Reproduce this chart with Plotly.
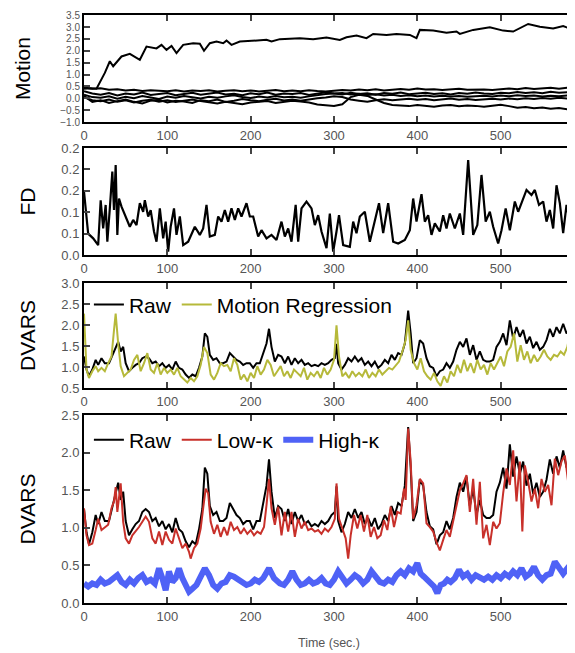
import plotly.graph_objects as go

# ---- data ----
# Motion: one drifting parameter plus five that stay near zero (sampled every 10 s)
motion_drift_t = [0, 8, 15, 25, 31, 35, 45, 55, 67, 75, 87, 93, 99, 105, 111, 119, 131, 139, 144, 151,
                  159, 167, 171, 177, 187, 203, 219, 225, 235, 259, 275, 291, 307, 315, 327, 339, 347, 363, 375, 391,
                  399, 403, 419, 435, 447, 451, 467, 487, 503, 515, 527, 533, 547, 563, 575, 583, 588]
motion_drift = [0.40, 0.42, 0.40, 1.07, 1.56, 1.35, 1.76, 1.87, 1.62, 2.18, 2.10, 2.25, 2.04, 2.20, 1.90, 2.25, 2.32, 2.30, 2.00, 2.32,
                2.39, 2.32, 2.43, 2.25, 2.39, 2.43, 2.46, 2.39, 2.49, 2.53, 2.49, 2.56, 2.46, 2.57, 2.64, 2.53, 2.71, 2.67, 2.71, 2.67,
                2.53, 2.88, 2.85, 2.76, 2.81, 2.71, 2.88, 2.99, 2.85, 2.81, 3.01, 3.13, 3.01, 2.94, 3.04, 2.94, 3.04]

motion_t = list(range(0, 600, 10))
motion_a = [0.45, 0.40, 0.42, 0.36, 0.38, 0.33, 0.36, 0.31, 0.34, 0.32,
            0.30, 0.34, 0.29, 0.33, 0.31, 0.34, 0.29, 0.32, 0.34, 0.30,
            0.33, 0.29, 0.31, 0.35, 0.30, 0.33, 0.30, 0.34, 0.31, 0.29,
            0.32, 0.35, 0.33, 0.37, 0.34, 0.38, 0.33, 0.36, 0.39, 0.36,
            0.41, 0.37, 0.38, 0.35, 0.38, 0.40, 0.36, 0.38, 0.37, 0.35,
            0.38, 0.41, 0.38, 0.43, 0.39, 0.41, 0.44, 0.40, 0.45, 0.43]
motion_b = [0.30, 0.20, 0.15, 0.22, 0.12, 0.20, 0.16, 0.24, 0.14, 0.19,
            0.22, 0.13, 0.18, 0.23, 0.15, 0.20, 0.24, 0.16, 0.19, 0.13,
            0.21, 0.17, 0.24, 0.15, 0.20, 0.18, 0.22, 0.14, 0.19, 0.25,
            0.20, 0.16, 0.23, 0.18, 0.21, 0.15, 0.22, 0.19, 0.24, 0.17,
            0.20, 0.23, 0.18, 0.21, 0.16, 0.22, 0.19, 0.24, 0.20, 0.18,
            0.23, 0.21, 0.26, 0.22, 0.25, 0.21, 0.27, 0.23, 0.26, 0.24]
motion_c = [0.15, 0.05, 0.02, 0.08, -0.02, 0.06, 0.00, 0.09, 0.03, -0.03,
            0.07, 0.02, 0.10, 0.04, -0.01, 0.06, 0.02, 0.08, 0.13, 0.05,
            0.01, 0.07, 0.03, 0.10, 0.04, 0.06, 0.02, 0.08, 0.14, 0.18,
            0.20, 0.22, 0.16, 0.19, 0.14, 0.17, 0.12, 0.15, 0.10, 0.13,
            0.09, 0.12, 0.08, 0.11, 0.07, 0.10, 0.06, 0.09, 0.11, 0.08,
            0.12, 0.09, 0.13, 0.10, 0.12, 0.08, 0.11, 0.09, 0.12, 0.10]
motion_d = [0.05, -0.08, -0.12, -0.05, -0.15, -0.08, -0.18, -0.10, -0.06, -0.14,
            -0.08, -0.16, -0.10, -0.05, -0.12, -0.18, -0.22, -0.15, -0.20, -0.25,
            -0.18, -0.15, -0.12, -0.20, -0.16, -0.10, -0.14, -0.18, -0.26, -0.30,
            -0.32, -0.25, 0.05, 0.15, 0.10, -0.05, -0.20, -0.28, -0.30, -0.33,
            -0.28, -0.32, -0.36, -0.30, -0.28, -0.34, -0.30, -0.32, -0.36, -0.31,
            -0.27, -0.33, -0.40, -0.37, -0.42, -0.39, -0.44, -0.41, -0.46, -0.43]
motion_e = [0.10, -0.15, -0.08, -0.20, -0.12, -0.05, -0.15, -0.22, -0.10, -0.06,
            -0.18, -0.10, -0.14, -0.20, -0.08, -0.12, -0.05, -0.16, -0.10, -0.03,
            -0.08, -0.12, -0.06, -0.02, -0.09, -0.05, -0.10, -0.04, 0.00, 0.03,
            0.08, 0.05, -0.05, -0.10, -0.15, -0.08, -0.04, -0.08, -0.05, -0.02,
            -0.06, -0.03, -0.08, -0.05, -0.01, -0.06, -0.03, -0.07, -0.04, -0.02,
            -0.05, -0.01, -0.04, 0.00, -0.03, 0.01, -0.02, 0.02, -0.01, 0.00]

# Framewise displacement
fd_t = [0, 5, 11, 17, 20, 23, 26, 28, 31, 34, 36, 38, 40, 42, 45, 49, 55, 59, 63, 67,
        71, 73, 77, 80, 84, 87, 91, 95, 98, 101, 104, 108, 111, 115, 119, 125, 133, 139, 143, 147,
        151, 157, 161, 165, 169, 173, 177, 181, 185, 189, 195, 199, 203, 209, 213, 219, 225, 231, 237, 241,
        245, 249, 254, 257, 261, 267, 273, 277, 281, 285, 291, 295, 299, 303, 306, 311, 319, 323, 327, 331,
        337, 343, 349, 354, 359, 365, 371, 377, 385, 391, 395, 399, 405, 409, 413, 417, 421, 427, 431, 435,
        439, 445, 451, 455, 461, 467, 472, 477, 482, 487, 491, 497, 501, 506, 511, 517, 521, 526, 531, 537,
        541, 546, 551, 555, 559, 563, 567, 571, 575, 579, 583, 587]
fd = [0.148, 0.050, 0.039, 0.023, 0.128, 0.062, 0.117, 0.031, 0.109, 0.195, 0.105, 0.210, 0.047, 0.132, 0.113, 0.093, 0.066, 0.082, 0.070, 0.121,
      0.101, 0.128, 0.090, 0.105, 0.055, 0.031, 0.109, 0.039, 0.078, 0.008, 0.066, 0.109, 0.047, 0.090, 0.023, 0.031, 0.066, 0.047, 0.062, 0.117,
      0.043, 0.047, 0.090, 0.078, 0.105, 0.078, 0.109, 0.082, 0.109, 0.090, 0.121, 0.090, 0.090, 0.043, 0.058, 0.039, 0.047, 0.035, 0.078, 0.043,
      0.062, 0.031, 0.117, 0.031, 0.109, 0.125, 0.109, 0.070, 0.093, 0.055, 0.016, 0.097, 0.008, 0.055, 0.093, 0.023, 0.019, 0.078, 0.051, 0.090,
      0.101, 0.031, 0.078, 0.121, 0.051, 0.121, 0.031, 0.027, 0.035, 0.058, 0.132, 0.078, 0.142, 0.078, 0.093, 0.047, 0.074, 0.055, 0.093, 0.062,
      0.097, 0.062, 0.097, 0.047, 0.222, 0.047, 0.070, 0.187, 0.078, 0.101, 0.066, 0.027, 0.058, 0.109, 0.058, 0.125, 0.101, 0.125, 0.152, 0.140,
      0.152, 0.117, 0.125, 0.078, 0.105, 0.062, 0.163, 0.121, 0.051, 0.117, 0.078, 0.105]
fd_ticktext = ["0.0", "0.1", "0.1", "0.2", "0.2", "0.2"]

# DVARS, raw data (same series in both DVARS panels)
raw_t = [0, 3, 6, 10, 14, 17, 21, 25, 30, 34, 38, 41, 44, 47, 50, 54, 58, 62, 66, 70,
         74, 78, 82, 86, 90, 94, 98, 102, 106, 110, 114, 118, 122, 126, 130, 134, 138, 142, 145, 148,
         151, 155, 159, 163, 167, 171, 175, 179, 183, 187, 191, 195, 199, 203, 207, 211, 215, 219, 222, 225,
         229, 233, 237, 241, 245, 249, 253, 257, 261, 265, 269, 273, 277, 281, 285, 289, 293, 297, 301, 303,
         305, 309, 313, 317, 321, 325, 329, 333, 337, 341, 345, 349, 353, 357, 361, 365, 369, 373, 377, 381,
         385, 389, 392, 395, 399, 403, 407, 411, 415, 419, 423, 427, 431, 435, 439, 443, 447, 451, 455, 459,
         463, 467, 471, 475, 479, 483, 487, 491, 495, 499, 503, 507, 511, 515, 519, 523, 527, 531, 535, 539,
         543, 547, 551, 555, 559, 563, 567, 571, 575, 579, 583, 587]
raw = [1.25, 0.94, 0.78, 0.94, 1.17, 1.05, 1.21, 1.09, 1.09, 1.29, 1.48, 1.60, 1.37, 1.48, 1.09, 0.90, 0.98, 1.05, 1.09, 1.21,
       1.25, 1.21, 1.09, 1.13, 1.02, 1.09, 0.98, 1.05, 0.94, 1.13, 0.98, 0.94, 0.82, 0.74, 0.82, 0.78, 0.98, 1.25, 1.80, 1.72,
       1.29, 1.17, 1.21, 1.09, 1.09, 1.13, 1.33, 1.25, 1.17, 1.13, 1.05, 1.09, 1.09, 0.98, 1.09, 1.09, 1.33, 1.56, 1.91, 1.48,
       1.13, 1.29, 1.25, 1.09, 1.25, 1.05, 1.21, 1.09, 1.17, 1.05, 1.09, 1.02, 1.05, 1.02, 1.09, 1.05, 1.09, 1.17, 1.21, 1.55,
       1.09, 0.94, 1.05, 1.21, 1.13, 1.25, 1.13, 1.21, 1.05, 1.13, 1.02, 1.13, 0.98, 1.05, 1.17, 1.09, 1.29, 1.17, 1.33, 1.29,
       1.56, 2.34, 1.80, 1.09, 1.21, 1.64, 1.56, 1.21, 1.02, 0.98, 0.78, 0.90, 0.94, 1.09, 0.98, 1.13, 1.41, 1.60, 1.48, 1.68,
       1.29, 1.52, 1.17, 1.37, 1.17, 1.13, 1.13, 1.17, 1.48, 1.60, 1.80, 1.52, 2.11, 1.68, 1.95, 1.72, 1.88, 1.56, 1.72, 1.45,
       1.60, 1.41, 1.48, 1.64, 1.91, 1.72, 1.95, 1.80, 2.03, 1.80, 1.91, 1.68]

# DVARS after motion regression
mreg_t = [0, 3, 6, 10, 14, 17, 21, 25, 29, 33, 36, 38, 41, 44,
          48, 52, 56, 60, 64, 68, 72, 76, 80, 84, 88, 92, 96, 100, 104, 108, 112, 116, 120, 124,
          128, 132, 136, 140, 144, 148, 152, 156, 160, 164, 168, 172, 176, 180, 184, 188, 192, 196, 200, 204,
          208, 212, 216, 220, 224, 228, 232, 236, 240, 244, 248, 252, 256, 260, 264, 268, 272, 276, 280, 284,
          288, 292, 296, 300, 303, 306,
          310, 314, 318, 322, 326, 330, 334, 338, 342, 346, 350, 354, 358, 362, 366, 370, 374, 378, 382, 386,
          389, 392,
          396, 400, 404, 408, 412, 416, 420, 424, 428, 432, 436, 440, 444, 448, 452, 456, 460, 464, 468, 472,
          476, 480, 484, 488, 492, 496, 500, 504, 508, 512, 516, 520, 524, 528, 532, 536, 540, 544, 548, 552,
          556, 560, 564, 568, 572, 576, 580, 583, 585, 588]
mreg = [2.27, 0.94, 0.74, 0.90, 1.02, 0.90, 0.98, 0.90, 1.09, 1.25, 1.88, 2.27, 1.56, 1.02,
        0.78, 0.86, 0.94, 1.17, 1.29, 0.90, 1.09, 1.33, 0.94, 0.86, 1.09, 0.82, 0.98, 0.86, 0.94, 0.82, 0.98, 0.78, 0.70, 0.63,
        0.74, 0.66, 0.78, 1.05, 1.48, 1.33, 0.82, 0.70, 0.86, 1.09, 1.02, 1.05, 0.90, 1.21, 1.05, 0.70, 0.82, 0.66, 0.86, 0.74,
        1.02, 0.82, 0.94, 1.17, 1.05, 0.78, 0.90, 1.02, 0.78, 0.90, 0.74, 0.94, 0.86, 0.78, 0.98, 0.70, 0.86, 0.78, 0.90, 0.74,
        0.98, 0.82, 0.94, 1.17, 1.99, 1.25,
        0.78, 0.86, 0.74, 0.90, 0.78, 0.86, 0.78, 0.94, 0.74, 0.86, 0.78, 0.94, 0.82, 0.90, 0.98, 0.94, 1.05, 1.13, 1.37, 1.64,
        2.11, 1.41,
        1.09, 0.94, 1.21, 0.90, 0.78, 0.70, 0.86, 0.66, 0.55, 0.78, 0.63, 0.90, 0.78, 1.05, 0.86, 1.17, 0.90, 1.09, 0.86, 1.17,
        0.94, 1.05, 0.82, 1.09, 0.94, 1.09, 1.25, 1.02, 1.37, 1.48, 1.80, 1.13, 1.52, 1.17, 1.37, 1.09, 1.29, 1.13, 1.25, 1.41,
        1.25, 1.17, 1.29, 1.25, 1.37, 1.29, 1.48, 1.80, 2.81, 2.73]

# DVARS of the low-kappa (non-BOLD) part
lowk_t = [0, 3, 6, 10, 14, 17, 21, 25, 29, 33, 36, 38, 40, 44, 47, 50, 54, 58, 62, 66,
          70, 74, 78, 82, 86, 90, 94, 98, 102, 106, 110, 114, 118, 122, 126, 128, 132, 136, 140, 143,
          146, 149, 152, 156, 160, 164, 168, 172, 176, 180, 184, 188, 192, 196, 200, 204, 208, 212, 216, 219,
          222, 225, 229, 233, 237, 241, 245, 249, 253, 257, 261, 265, 269, 273, 277, 281, 285, 289, 293, 297,
          301, 303, 306, 310, 314, 317, 320, 324, 328, 332, 336, 340, 344, 348, 352, 356, 360, 364, 368, 372,
          376, 380, 384, 386, 389, 392, 395, 399, 403, 407, 411, 415, 419, 423, 427, 431, 435, 439, 443, 447,
          451, 455, 459, 463, 467, 471, 475, 479, 483, 487, 491, 495, 499, 503, 507, 511, 515, 519, 523, 526,
          529, 533, 537, 541, 545, 549, 553, 557, 561, 565, 569, 573, 577, 581, 585, 588]
lowk = [1.26, 0.90, 0.77, 0.79, 0.97, 1.12, 0.97, 1.01, 1.04, 1.26, 1.35, 1.54, 1.21, 1.59, 1.08, 0.86, 0.79, 0.90, 0.95, 1.01,
        1.08, 1.15, 1.08, 0.86, 0.79, 0.95, 0.77, 0.95, 0.84, 0.79, 0.99, 0.86, 0.73, 0.79, 0.68, 0.59, 0.73, 0.79, 0.99, 1.26,
        1.52, 1.46, 1.08, 0.92, 1.04, 0.88, 1.01, 0.90, 1.08, 0.97, 1.01, 0.92, 0.99, 0.92, 0.97, 0.90, 0.95, 0.92, 1.01, 1.30,
        1.65, 1.26, 1.04, 1.28, 0.90, 1.21, 0.95, 1.21, 0.88, 1.12, 0.99, 1.08, 0.97, 0.99, 0.95, 0.97, 0.92, 0.99, 0.95, 1.01,
        1.12, 1.59, 1.12, 0.99, 0.86, 0.59, 0.90, 1.17, 0.99, 1.17, 0.95, 1.17, 0.88, 1.01, 0.86, 0.90, 1.10, 0.97, 1.28, 1.01,
        1.21, 1.19, 1.52, 1.37, 2.32, 1.88, 1.12, 1.30, 1.65, 1.59, 1.06, 1.01, 0.95, 0.81, 0.70, 0.84, 0.97, 0.88, 1.08, 1.26,
        1.50, 1.59, 1.70, 1.21, 1.65, 1.04, 1.61, 0.86, 1.04, 0.77, 1.08, 0.99, 1.06, 1.46, 1.79, 1.57, 2.03, 1.35, 1.88, 0.95,
        1.83, 1.61, 1.35, 1.52, 1.26, 1.65, 1.48, 1.57, 1.30, 1.92, 1.70, 1.88, 1.96, 1.61, 1.96, 1.99]

# DVARS of the high-kappa (BOLD) part
highk_t = [0, 5, 10, 15, 20, 25, 30, 35, 40, 45, 50, 55, 60, 65, 70, 75, 80, 85, 90,
           94, 98, 102, 106, 110, 114, 118, 122, 126, 130,
           135, 140, 145, 150, 155, 160, 165, 170, 175, 180, 185, 190, 195, 200, 205, 210, 215,
           222, 228,
           235, 240, 245, 250, 255, 260, 265, 270, 275, 280, 285, 290, 295, 300, 305, 310, 315, 320,
           325, 330, 335, 340, 345, 350, 355, 360, 365, 370, 375, 380, 385, 390, 395, 400,
           404, 408, 412, 416, 420, 424, 428, 432, 436, 440,
           445, 450, 455, 460, 465, 470, 475, 480, 485, 490, 495, 500, 505, 510, 515, 520, 525, 530, 535, 540,
           545, 550, 555, 560, 565, 570, 575, 580, 585, 588]
highk = [0.26, 0.22, 0.26, 0.24, 0.31, 0.26, 0.28, 0.33, 0.37, 0.28, 0.24, 0.31, 0.26, 0.33, 0.37, 0.28, 0.31, 0.26, 0.46,
         0.33, 0.17, 0.42, 0.28, 0.33, 0.46, 0.33, 0.22, 0.15, 0.19,
         0.24, 0.35, 0.46, 0.37, 0.24, 0.19, 0.26, 0.28, 0.37, 0.35, 0.31, 0.26, 0.24, 0.26, 0.31, 0.28, 0.33,
         0.46, 0.33,
         0.26, 0.24, 0.31, 0.42, 0.31, 0.24, 0.26, 0.31, 0.26, 0.28, 0.33, 0.26, 0.24, 0.31, 0.42, 0.33, 0.26, 0.31,
         0.37, 0.33, 0.26, 0.31, 0.42, 0.35, 0.28, 0.26, 0.31, 0.28, 0.37, 0.42, 0.37, 0.46, 0.42, 0.53,
         0.39, 0.35, 0.31, 0.28, 0.22, 0.13, 0.24, 0.26, 0.31, 0.28,
         0.33, 0.44, 0.35, 0.39, 0.31, 0.37, 0.33, 0.31, 0.35, 0.31, 0.37, 0.33, 0.39, 0.35, 0.42, 0.37, 0.46, 0.35, 0.39, 0.48,
         0.37, 0.31, 0.37, 0.39, 0.55, 0.48, 0.39, 0.46, 0.42, 0.48]

time_ticks = [0, 100, 200, 300, 400, 500]

# ---- figure ----
font_fam = "Liberation Sans, Arial, Helvetica, sans-serif"
tick_grey = "#555555"

fig = go.Figure()

for ys in [motion_a, motion_b, motion_c, motion_d, motion_e]:
    fig.add_trace(go.Scatter(x=motion_t, y=ys, mode="lines", line=dict(color="black", width=2),
                             xaxis="x", yaxis="y", showlegend=False))
fig.add_trace(go.Scatter(x=motion_drift_t, y=motion_drift, mode="lines", line=dict(color="black", width=2),
                         xaxis="x", yaxis="y", showlegend=False))

fig.add_trace(go.Scatter(x=fd_t, y=fd, mode="lines", line=dict(color="black", width=2.2),
                         xaxis="x2", yaxis="y2", showlegend=False))

fig.add_trace(go.Scatter(x=raw_t, y=raw, mode="lines", name="Raw", line=dict(color="black", width=2),
                         xaxis="x3", yaxis="y3", legend="legend"))
fig.add_trace(go.Scatter(x=mreg_t, y=mreg, mode="lines", name="Motion Regression",
                         line=dict(color="#b6b93a", width=2), xaxis="x3", yaxis="y3", legend="legend"))

fig.add_trace(go.Scatter(x=raw_t, y=raw, mode="lines", name="Raw", line=dict(color="black", width=2),
                         xaxis="x4", yaxis="y4", legend="legend2"))
fig.add_trace(go.Scatter(x=lowk_t, y=lowk, mode="lines", name="Low-κ", line=dict(color="#c8302a", width=2),
                         xaxis="x4", yaxis="y4", legend="legend2"))
fig.add_trace(go.Scatter(x=highk_t, y=highk, mode="lines", name="High-κ", line=dict(color="#4f62f6", width=6),
                         xaxis="x4", yaxis="y4", legend="legend2"))

x_common = dict(range=[0, 588], tickvals=time_ticks, ticks="inside", ticklen=6, tickwidth=1.5,
                tickcolor="#444444", showline=True, linecolor="black", linewidth=2, mirror="allticks",
                showgrid=False, zeroline=False, automargin=False,
                tickfont=dict(size=13, color=tick_grey, family=font_fam))
y_common = dict(ticks="inside", ticklen=6, tickwidth=1.5, tickcolor="#444444", showline=True,
                linecolor="black", linewidth=2, mirror="allticks", showgrid=False, zeroline=False,
                automargin=False, tickfont=dict(size=13, color=tick_grey, family=font_fam))
title_font = dict(size=21, color="black", family=font_fam)

domains = [[0.8166, 0.998], [0.5908, 0.7725], [0.365, 0.5433], [0.0, 0.3192]]

# the page body adds an 8 px margin, so the figure is 8 px smaller than the window
fig.update_layout(
    width=567, height=645,
    margin=dict(l=76, r=1, t=6, b=50),
    paper_bgcolor="white", plot_bgcolor="white",
    font=dict(family=font_fam),
    xaxis=dict(x_common, domain=[0, 1], anchor="y"),
    xaxis2=dict(x_common, domain=[0, 1], anchor="y2"),
    xaxis3=dict(x_common, domain=[0, 1], anchor="y3"),
    xaxis4=dict(x_common, domain=[0, 1], anchor="y4",
                title=dict(text="Time (sec.)", font=dict(size=12.5, color=tick_grey, family=font_fam), standoff=16)),
    yaxis=dict(y_common, domain=domains[0], anchor="x", range=[-1.0, 3.5], dtick=0.5, tickformat=".1f",
               tickfont=dict(size=10, color=tick_grey, family=font_fam),
               title=dict(text="Motion", font=title_font, standoff=24)),
    yaxis2=dict(y_common, domain=domains[1], anchor="x2", range=[0, 0.25],
                tickvals=[0, 0.05, 0.10, 0.15, 0.20, 0.25], ticktext=fd_ticktext,
                title=dict(text="FD", font=title_font, standoff=20)),
    yaxis3=dict(y_common, domain=domains[2], anchor="x3", range=[0.5, 3.0], dtick=0.5, tickformat=".1f",
                title=dict(text="DVARS", font=title_font, standoff=20)),
    yaxis4=dict(y_common, domain=domains[3], anchor="x4", range=[0, 2.5], dtick=0.5, tickformat=".1f",
                title=dict(text="DVARS", font=title_font, standoff=20)),
    legend=dict(orientation="h", x=0.01, y=0.506, xanchor="left", yanchor="middle",
                bgcolor="rgba(0,0,0,0)", font=dict(size=21, color="black", family=font_fam),
                itemwidth=30, itemclick=False, itemdoubleclick=False),
    legend2=dict(orientation="h", x=0.01, y=0.2767, xanchor="left", yanchor="middle",
                 bgcolor="rgba(0,0,0,0)", font=dict(size=21, color="black", family=font_fam),
                 itemwidth=30, itemclick=False, itemdoubleclick=False),
)

fig.write_html("out.html")
